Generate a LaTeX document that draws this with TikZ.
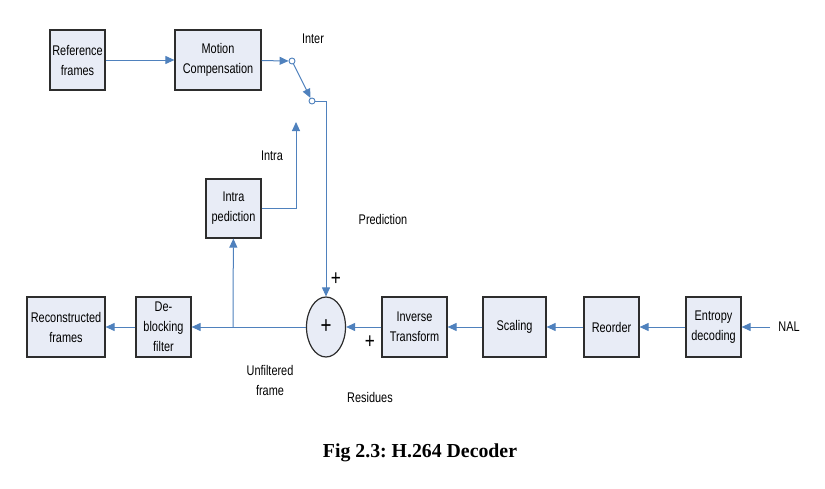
\documentclass[tikz,border=0pt]{standalone}
\usepackage{fontspec}
\setmainfont{Liberation Serif}
\setsansfont{Liberation Sans}[FakeStretch=0.78]
\usetikzlibrary{arrows.meta,positioning,calc,shapes.geometric}
\definecolor{wire}{RGB}{79,129,189}
\definecolor{ink}{RGB}{45,45,45}
\definecolor{boxfill}{RGB}{232,236,246}
\frenchspacing
\begin{document}
\begin{tikzpicture}[x=1pt,y=-1pt,>={Triangle[length=9pt,width=8pt]},font=\sffamily\fontsize{14}{20}\selectfont]
\tikzset{blk/.style={draw=ink,line width=1.2pt,fill=boxfill,align=center,inner sep=0pt,minimum height=60pt},
  arr/.style={->,draw=wire,line width=1pt},
  contact/.style={circle,draw=wire,fill=white,line width=0.9pt,inner sep=0pt,minimum size=6pt},
  lbl/.style={align=center,inner sep=0pt},plus/.style={lbl,font=\sffamily\fontsize{22}{22}\selectfont}}
\useasboundingbox (0,0) rectangle (825,488);
\node[blk,minimum width=55pt] (ref) at (77.5,60) {Reference\\frames};
\node[blk,minimum width=86pt] (mc) at (218,60) {Motion\\Compensation};
\node[contact] (inter) at (292,61) {};
\node[contact] (pos) at (312,101) {};
\node[lbl] (interlbl) at (313,39) {Inter};
\node[blk,minimum width=55pt,minimum height=59pt] (intra) at (233.5,208.5) {Intra\\pediction};
\coordinate (intratip) at (296,122);
\node[lbl] (intralbl) at (272,156) {Intra};
\node[lbl] (predlbl) at (383,219) {Prediction};
\node[blk,minimum width=78pt] (rec) at (66,327) {Reconstructed\\frames};
\node[blk,minimum width=55pt] (dbf) at (163.5,327) {De-\\blocking\\filter};
\node[ellipse,draw=ink,line width=1.2pt,fill=boxfill,minimum width=39pt,minimum height=60pt,inner sep=0pt,font=\sffamily\fontsize{24}{24}\selectfont] (sum) at (326,327) {+};
\node[blk,minimum width=65pt] (itr) at (414.5,327) {Inverse\\Transform};
\node[blk,minimum width=63pt] (scl) at (514.5,327) {Scaling};
\node[blk,minimum width=55pt] (reo) at (611.5,327) {Reorder};
\node[blk,minimum width=55pt] (ent) at (713.5,327) {Entropy\\decoding};
\node[lbl] (nal) at (789,327) {NAL};
\coordinate (br) at (233,327);
\node[plus] (plustop) at (336,279) {+};
\node[plus] (plusleft) at (370,342) {+};
\node[lbl] (unf) at (270,380) {Unfiltered\\frame};
\node[lbl] (res) at (370,397) {Residues};
\node[lbl,font=\rmfamily\bfseries\fontsize{19.8}{22}\selectfont] (cap) at (420,453) {Fig 2.3: H.264 Decoder};
\draw[arr] (ref)--(mc);\draw[arr] (mc)--(inter);\draw[arr] (inter)--(pos);
\draw[arr] (pos.east) -| (sum.north);
\draw[arr] (intra.east) -| (intratip);
\draw[arr] (nal.west)++(-8,0)--(ent);\draw[arr] (ent)--(reo);\draw[arr] (reo)--(scl);
\draw[arr] (scl)--(itr);\draw[arr] (itr)--(sum);
\draw[arr] (sum)--(dbf);\draw[arr] (dbf)--(rec);
\draw[arr] (br)--(intra);
\end{tikzpicture}
\end{document}
